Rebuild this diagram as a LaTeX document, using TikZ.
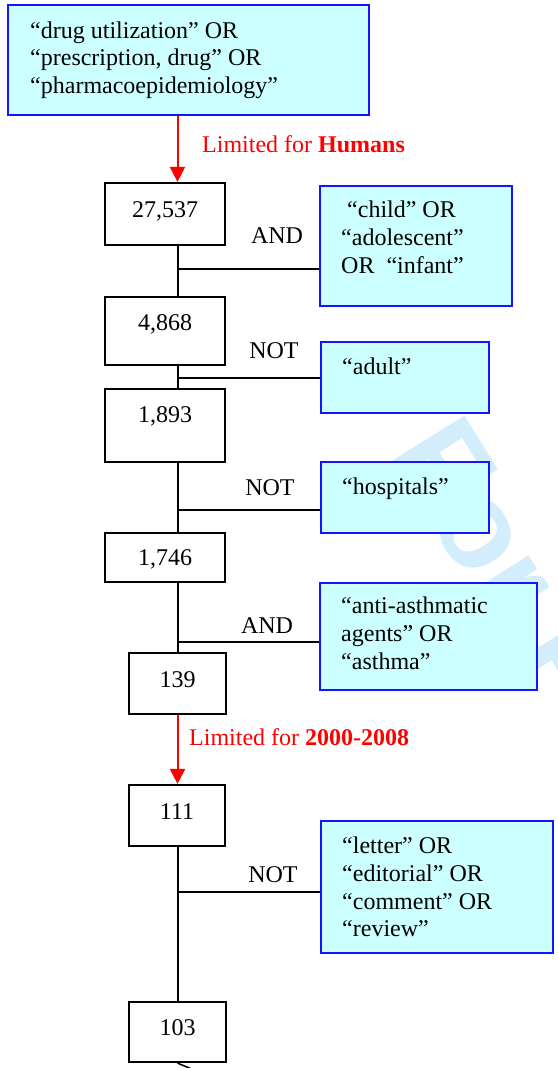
\documentclass[tikz,border=0pt]{standalone}
\usepackage{fontspec}
\setmainfont{Liberation Serif}
\newfontfamily\wmfont{Liberation Sans}
\usetikzlibrary{arrows.meta}
\definecolor{cyanfill}{RGB}{204,255,255}
\definecolor{boxblue}{RGB}{20,20,255}
\definecolor{wmblue}{RGB}{210,237,252}
\definecolor{limred}{RGB}{255,0,0}
\begin{document}
\begin{tikzpicture}[x=1pt,y=-1pt,
  every node/.style={font=\fontsize{24}{27.8}\selectfont},
  numbox/.style={draw=black, line width=2.2pt, inner sep=0pt, minimum width=#1},
  numbox/.default=120,
  termbox/.style={draw=boxblue, fill=cyanfill, line width=2.2pt, inner sep=0pt},
  termtext/.style={align=left, anchor=north west, inner sep=0pt},
  numtext/.style={anchor=base, inner sep=0pt},
  optext/.style={anchor=base, inner sep=0pt},
  limtext/.style={anchor=base west, inner sep=0pt, text=limred},
  spineline/.style={draw=black, line width=2pt},
  branchline/.style={draw=black, line width=1.5pt},
  limarrow/.style={draw=limred, line width=2pt, -{Triangle[width=15pt,length=15pt]}},
  wm/.style={text=wmblue, inner sep=0pt, font=\wmfont\bfseries\fontsize{125}{125}\selectfont}
]
\useasboundingbox (0,0) rectangle (557,1068);
\clip (0,0) rectangle (557,1068);

% watermark
\node[wm, rotate=-58, anchor=base west] (wmark) at (387,454) {For Peer Review};

\coordinate (spine) at (177.5,0);

% top search box
\node[termbox, minimum width=361, minimum height=110] (top) at (188.5,60) {};
\node[termtext] (toptext) at (30,21.3) {“drug utilization” OR\\“prescription, drug” OR\\“pharmacoepidemiology”};

% number boxes
\node[numbox, minimum height=62] (b1) at (165,214) {};
\node[numtext] (t1) at (165,217) {27,537};
\node[numbox, minimum height=68] (b2) at (165,331) {};
\node[numtext] (t2) at (165,330) {4,868};
\node[numbox, minimum height=73] (b3) at (165,425.5) {};
\node[numtext] (t3) at (165,422) {1,893};
\node[numbox, minimum height=49] (b4) at (165,557.5) {};
\node[numtext] (t4) at (165,565) {1,746};
\node[numbox=97, minimum height=61] (b5) at (177.5,683.5) {};
\node[numtext] (t5) at (177.5,687) {139};
\node[numbox=96, minimum height=61] (b6) at (177,815.5) {};
\node[numtext] (t6) at (177,819) {111};
\node[numbox=97, minimum height=60] (b7) at (177.5,1032) {};
\node[numtext] (t7) at (177.5,1035) {103};

% term boxes
\node[termbox, minimum width=192, minimum height=120] (c1) at (416,246) {};
\node[termtext] (ct1) at (341,200.6) {\hspace{6pt}“child” OR\\“adolescent”\\OR\ \ “infant”};
\node[termbox, minimum width=168, minimum height=71] (c2) at (405,377.5) {};
\node[termtext] (ct2) at (342,357.6) {“adult”};
\node[termbox, minimum width=168, minimum height=71] (c3) at (405,497.5) {};
\node[termtext] (ct3) at (342,477.6) {“hospitals”};
\node[termbox, minimum width=217, minimum height=107] (c4) at (428.5,636.5) {};
\node[termtext] (ct4) at (341,596.6) {“anti-asthmatic\\agents” OR\\“asthma”};
\node[termbox, minimum width=232, minimum height=132] (c5) at (437,887) {};
\node[termtext] (ct5) at (342,836.6) {“letter” OR\\“editorial” OR\\“comment” OR\\“review”};

% junctions
\coordinate (j1) at (177.5,269);
\coordinate (j2) at (177.5,378);
\coordinate (j3) at (177.5,510);
\coordinate (j4) at (177.5,642);
\coordinate (j5) at (177.5,892);
\coordinate (tail) at (199,1072);

% spine
\draw[spineline] (b1.south -| spine) -- (b2.north -| spine);
\draw[spineline] (b2.south -| spine) -- (b3.north -| spine);
\draw[spineline] (b3.south -| spine) -- (b4.north -| spine);
\draw[spineline] (b4.south -| spine) -- (b5.north -| spine);
\draw[spineline] (b6.south -| spine) -- (b7.north -| spine);
\draw[branchline] (b7.south -| spine) -- (tail);

% branches
\draw[branchline] (j1) -- (j1 -| c1.west);
\draw[branchline] (j2) -- (j2 -| c2.west);
\draw[branchline] (j3) -- (j3 -| c3.west);
\draw[branchline] (j4) -- (j4 -| c4.west);
\draw[branchline] (j5) -- (j5 -| c5.west);

% operator labels
\node[optext] (op1) at (277,243) {AND};
\node[optext] (op2) at (274,358) {NOT};
\node[optext] (op3) at (270,495) {NOT};
\node[optext] (op4) at (267,633) {AND};
\node[optext] (op5) at (273,882) {NOT};

% limits
\draw[limarrow] (top.south -| spine) -- (b1.north -| spine);
\node[limtext] (lim1) at (202,152) {Limited for \textbf{Humans}};
\draw[limarrow] (b5.south -| spine) -- (b6.north -| spine);
\node[limtext] (lim2) at (189,745) {Limited for \textbf{2000-2008}};
\end{tikzpicture}
\end{document}
